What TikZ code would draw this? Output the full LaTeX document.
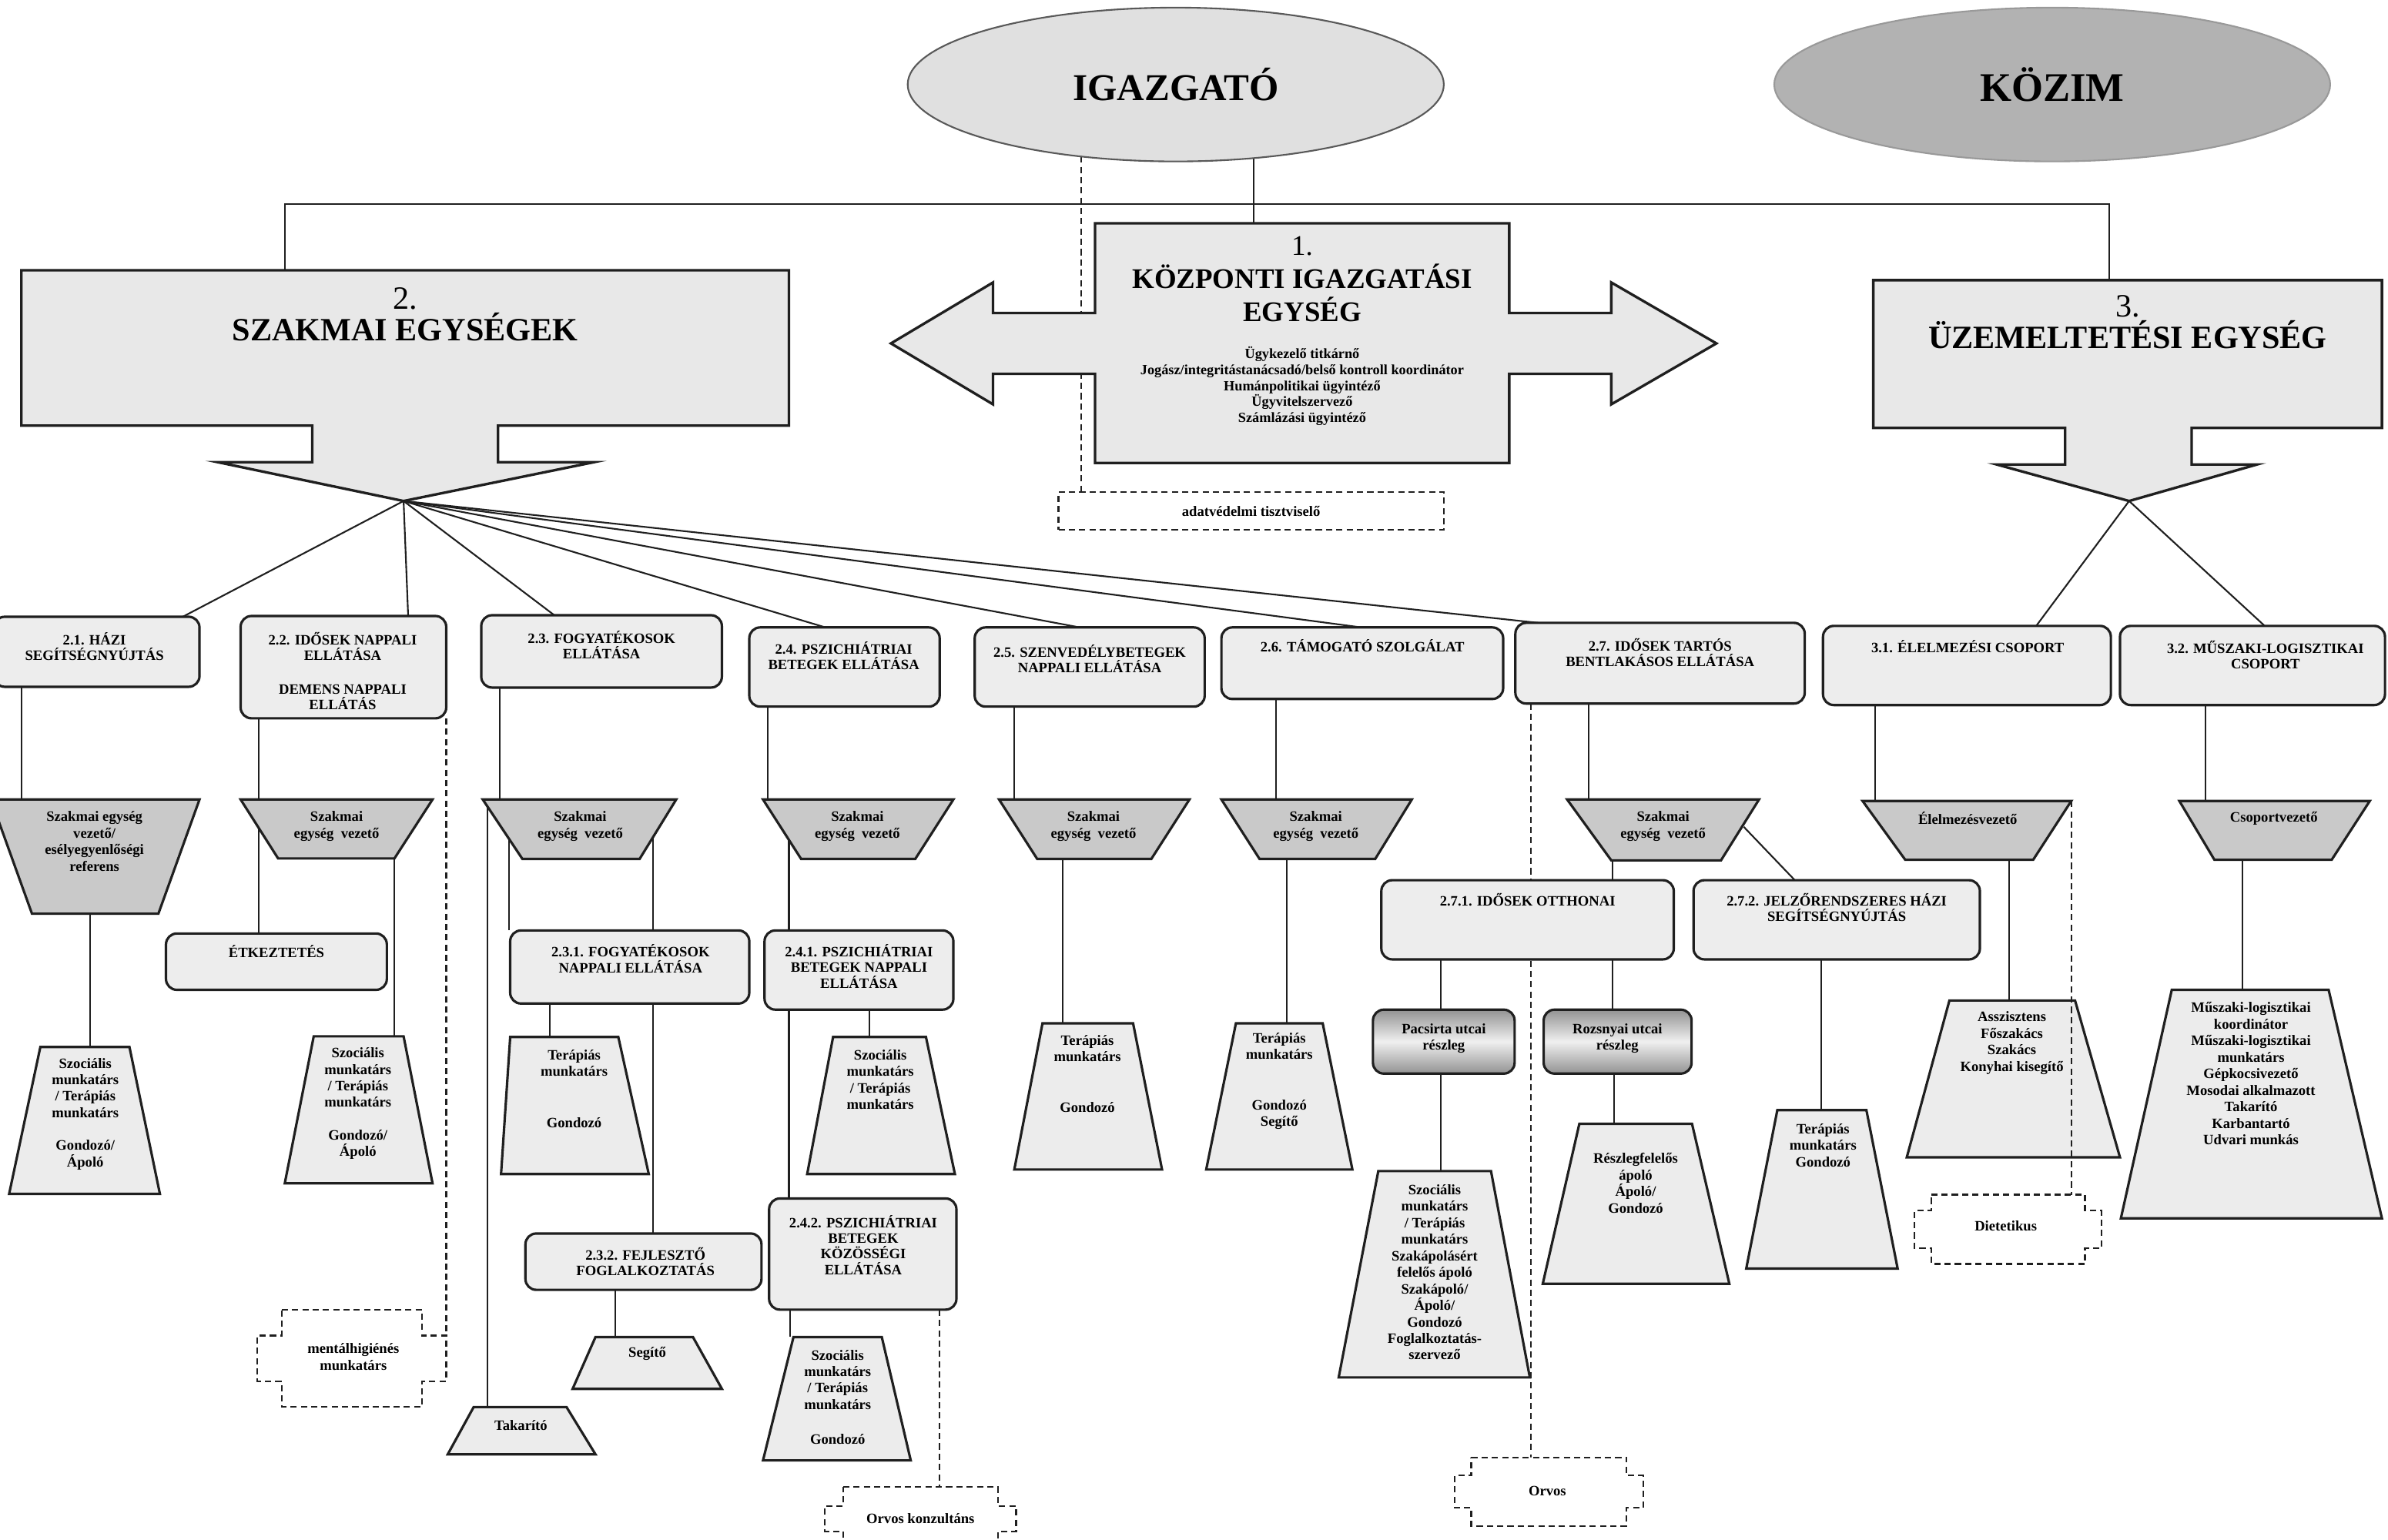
\documentclass[tikz,border=0pt]{standalone}
\usepackage{fontspec}
\setmainfont{Liberation Serif}
\usetikzlibrary{shapes.geometric,fit}
\pgfdeclarelayer{bg}
\pgfsetlayers{bg,main}
\definecolor{cBox}{gray}{0.93}
\definecolor{cVez}{gray}{0.79}
\definecolor{cLow}{gray}{0.925}
\definecolor{cBig}{gray}{0.91}
\definecolor{cIg}{gray}{0.88}
\definecolor{cKoz}{gray}{0.70}
\definecolor{cLine}{gray}{0.12}
\newcommand\pxu{0.5627pt}
\newcommand\trapz[8]{%
  \path[#2] (#5,#3) -- (#6,#3) -- (#8,#4) -- (#7,#4) -- cycle;
  \node[hid, fit={(#5,#3) (#6,#3) (#7,#4) (#8,#4)}] (#1) {};}
\newcommand\rbx[6]{\node[rbox, fit={(#2,#3) (#4,#5)}, #6] (#1) {};}
\newcommand\notchbox[7]{%
  \draw[dsh, fill=white] ({#2+#6},#3) -- ({#4-#6},#3) -- ({#4-#6},{#3+#7}) -- (#4,{#3+#7}) -- (#4,{#5-#7}) -- ({#4-#6},{#5-#7}) -- ({#4-#6},#5) -- ({#2+#6},#5) -- ({#2+#6},{#5-#7}) -- (#2,{#5-#7}) -- (#2,{#3+#7}) -- ({#2+#6},{#3+#7}) -- cycle;
  \node[hid, fit={(#2,#3) (#4,#5)}] (#1) {};}
\begin{document}
\begin{tikzpicture}[x=0.019777cm, y=-0.019777cm,
  hid/.style={inner sep=0pt, outer sep=0pt},
  conn/.style={draw=cLine, line width=0.6pt},
  dsh/.style={draw=cLine, line width=0.6pt, dash pattern=on 2.3pt off 1.5pt},
  rbox/.style={draw=cLine, line width=0.9pt, fill=cBox, rounded corners=4pt, inner sep=0pt, outer sep=0pt},
  vez/.style={draw=cLine, line width=0.9pt, fill=cVez},
  low/.style={draw=cLine, line width=0.9pt, fill=cLow},
  big/.style={draw=cLine, line width=0.95pt, fill=cBig},
  t/.style={font=\bfseries\fontsize{5.3}{6.1}\selectfont, align=center, inner sep=0pt},
  tt/.style={font=\bfseries\fontsize{5.3}{5.8}\selectfont, align=center, inner sep=0pt},
  ts/.style={font=\bfseries\fontsize{5.2}{5.9}\selectfont, align=center, inner sep=0pt},
  shd/.style={top color=gray!85, bottom color=gray!85, middle color=gray!12}]
\useasboundingbox (0,0) rectangle (1568,1011.2);

% ---- top ellipses
\node[ellipse, draw=black!65, line width=0.6pt, fill=cIg, minimum width=352*\pxu, minimum height=101*\pxu, inner sep=0pt, font=\bfseries\fontsize{14}{16}\selectfont] (igaz) at (772,55.5) {IGAZGATÓ};
\node[ellipse, draw=black!40, line width=0.6pt, fill=cKoz, minimum width=365*\pxu, minimum height=101*\pxu, inner sep=0pt, font=\bfseries\fontsize{15}{17}\selectfont] (kozim) at (1347.5,55.5) {KÖZIM};

% ---- central double arrow
\path[big] (719,146.6) -- (991,146.6) -- (991,205.5) -- (1058,205.5) -- (1058,185.5) -- (1127,225.5) -- (1058,265.5) -- (1058,245.5) -- (991,245.5) -- (991,304) -- (719,304) -- (719,245.5) -- (652,245.5) -- (652,265.5) -- (585,225.5) -- (652,185.5) -- (652,205.5) -- (719,205.5) -- cycle;
\node[hid, fit={(719,146.6) (991,304)}] (kozp) {};
\node[font=\bfseries\fontsize{10.5}{12.1}\selectfont, align=center, inner sep=0pt] (kozpt) at (855,183.3) {{\mdseries 1.}\\KÖZPONTI IGAZGATÁSI\\EGYSÉG};
\node[ts] (kozps) at (855,253.6) {Ügykezelő titkárnő\\Jogász/integritástanácsadó/belső kontroll koordinátor\\Humánpolitikai ügyintéző\\Ügyvitelszervező\\Számlázási ügyintéző};

\node[dsh, fit={(695,323) (948,348)}, inner sep=0pt] (adat) {};
\node[t] (adatt) at (821.5,335.5) {adatvédelmi tisztviselő};

% ---- SZAKMAI
\path[big] (14,177.5) -- (518,177.5) -- (518,279.5) -- (327,279.5) -- (327,303.5) -- (390,303.5) -- (265,329) -- (143,303.5) -- (205,303.5) -- (205,279.5) -- (14,279.5) -- cycle;
\node[hid, fit={(14,177.5) (518,279.5)}] (szak) {};
\coordinate (sztip) at (265,329);
\node[font=\bfseries\fontsize{12}{11.6}\selectfont, align=center, inner sep=0pt] (szakt) at (266,206.4) {{\mdseries 2.}\\SZAKMAI EGYSÉGEK};

% ---- ÜZEMELTETÉSI
\path[big] (1230,184) -- (1564,184) -- (1564,281) -- (1439,281) -- (1439,305) -- (1482,305) -- (1398,329) -- (1311,305) -- (1356,305) -- (1356,281) -- (1230,281) -- cycle;
\node[hid, fit={(1230,184) (1564,281)}] (uzem) {};
\coordinate (uztip) at (1398,329);
\node[font=\bfseries\fontsize{12}{11.6}\selectfont, align=center, inner sep=0pt] (uzemt) at (1397,211.4) {{\mdseries 3.}\\ÜZEMELTETÉSI EGYSÉG};

\coordinate (hl) at (0,134);
\coordinate (v27r) at (1145,543);

% ---- rounded boxes
\rbx{b21}{-4}{405}{131}{451}{}
\rbx{b22}{158}{404.5}{293}{471.7}{}
\rbx{b23}{316}{404}{474}{451.5}{}
\rbx{b24}{492}{412}{617}{464}{}
\rbx{b25}{640}{412}{791}{464}{}
\rbx{b26}{802}{412}{987}{459}{}
\rbx{b27}{995}{409}{1185}{462}{}
\rbx{b31}{1197}{411}{1386}{463}{}
\rbx{b32}{1392}{411}{1566}{463}{}
\rbx{etk}{109}{613}{254}{650}{}
\rbx{b231}{335}{611}{492}{659}{}
\rbx{b232}{345}{810}{500}{847}{}
\rbx{b241}{502}{611}{626}{663}{}
\rbx{b242}{505}{787}{628}{860}{}
\rbx{b271}{907}{578}{1099}{630}{}
\rbx{b272}{1112}{578}{1300}{630}{}
\rbx{pac}{901.5}{663}{994.5}{705}{shd}
\rbx{roz}{1013.6}{663}{1110.7}{705}{shd}

% ---- leader trapezoids
\trapz{v21}{vez}{525}{600}{-6}{131}{21}{104}
\trapz{v22}{vez}{525}{563.7}{158}{284}{182.6}{259}
\trapz{v23}{vez}{525}{564}{317}{444}{343}{420}
\trapz{v24}{vez}{525}{564}{501}{626}{526}{601}
\trapz{v25}{vez}{525}{564}{656}{781}{681}{756}
\trapz{v26}{vez}{525}{564}{802}{927}{827}{903}
\trapz{v27}{vez}{525}{565}{1029}{1155}{1058}{1130}
\trapz{elv}{vez}{526}{564.6}{1223}{1360}{1251}{1335}
\trapz{csv}{vez}{526}{564.6}{1431}{1556}{1454}{1531}

% ---- staff trapezoids
\trapz{l21}{low}{687.5}{784}{26.5}{85}{6}{105}
\trapz{l22}{low}{680.5}{777}{206}{265}{187}{284}
\trapz{l231}{low}{681}{771}{335}{406}{329}{426}
\trapz{l241}{low}{681}{771}{547}{608}{530}{627}
\trapz{l242}{low}{878}{959}{521}{579}{501}{598}
\trapz{tak}{low}{924}{955}{311}{372}{294}{391}
\trapz{seg}{low}{878}{912}{391}{455}{376}{474}
\trapz{l25}{low}{672}{768}{684.5}{744}{666}{763}
\trapz{l26}{low}{672}{768}{811.5}{868.5}{792}{888}
\trapz{lpac}{low}{769}{904.5}{905}{979}{879}{1004.5}
\trapz{lroz}{low}{738}{843}{1037}{1111}{1013}{1135.5}
\trapz{l272}{low}{729}{833}{1167}{1225.5}{1146.6}{1246}
\trapz{l31}{low}{657}{760}{1280}{1362.5}{1252}{1392}
\trapz{l32}{low}{650}{800}{1426}{1529}{1392.6}{1564}

% ---- dashed notched boxes
\notchbox{ment}{169}{860}{293}{924}{16}{17}
\notchbox{ork}{541.6}{976.5}{667.2}{1018}{12}{12.5}
\notchbox{orv}{955}{957}{1079}{1002}{11}{12}
\notchbox{diet}{1257}{784.5}{1380}{830}{11}{10.5}

% ---- texts
\node[tt] (b21t) at (62,424.5) {2.1. HÁZI\\SEGÍTSÉGNYÚJTÁS};
\node[tt] (b22t) at (225,440.7) {2.2. IDŐSEK NAPPALI\\ELLÁTÁSA\\[6.6pt]DEMENS NAPPALI\\ELLÁTÁS};
\node[tt] (b23t) at (395,423.5) {2.3. FOGYATÉKOSOK\\ELLÁTÁSA};
\node[tt] (b24t) at (554,430.5) {2.4. PSZICHIÁTRIAI\\BETEGEK ELLÁTÁSA};
\node[tt] (b25t) at (715.5,432.5) {2.5. SZENVEDÉLYBETEGEK\\NAPPALI ELLÁTÁSA};
\node[tt] (b26t) at (894.6,424) {2.6. TÁMOGATÓ SZOLGÁLAT};
\node[tt] (b27t) at (1090,428.5) {2.7. IDŐSEK TARTÓS\\BENTLAKÁSOS ELLÁTÁSA};
\node[tt] (b31t) at (1292,424.6) {3.1. ÉLELMEZÉSI CSOPORT};
\node[tt] (b32t) at (1487.5,430) {3.2. MŰSZAKI-LOGISZTIKAI\\CSOPORT};
\node[tt] (etkt) at (181.5,625) {ÉTKEZTETÉS};
\node[tt] (b231t) at (414,629.5) {2.3.1. FOGYATÉKOSOK\\NAPPALI ELLÁTÁSA};
\node[tt] (b232t) at (423.8,828.5) {2.3.2. FEJLESZTŐ\\FOGLALKOZTATÁS};
\node[tt] (b241t) at (564,634.5) {2.4.1. PSZICHIÁTRIAI\\BETEGEK NAPPALI\\ELLÁTÁSA};
\node[tt] (b242t) at (566.8,817.5) {2.4.2. PSZICHIÁTRIAI\\BETEGEK\\KÖZÖSSÉGI\\ELLÁTÁSA};
\node[tt] (b271t) at (1003,591) {2.7.1. IDŐSEK OTTHONAI};
\node[tt] (b272t) at (1206,596) {2.7.2. JELZŐRENDSZERES HÁZI\\SEGÍTSÉGNYÚJTÁS};
\node[t] (pact) at (948,682) {Pacsirta utcai\\részleg};
\node[t] (rozt) at (1062,682) {Rozsnyai utcai\\részleg};

\node[t] (v21t) at (62,552.5) {Szakmai egység\\vezető/\\esélyegyenlőségi\\referens};
\foreach \nm/\xx in {v22t/221, v23t/381, v24t/563, v25t/718, v26t/864, v27t/1092}
  \node[t] (\nm) at (\xx,542.5) {Szakmai\\egység~ vezető};
\node[t] (elvt) at (1292,537.5) {Élelmezésvezető};
\node[t] (csvt) at (1493,537.5) {Csoportvezető};

\node[t] (l21t) at (56,731.5) {Szociális\\munkatárs\\/ Terápiás\\munkatárs\\[6pt]Gondozó/\\Ápoló};
\node[t] (l22t) at (235,724.7) {Szociális\\munkatárs\\/ Terápiás\\munkatárs\\[6pt]Gondozó/\\Ápoló};
\node[t] (l231t) at (377,715) {Terápiás\\munkatárs\\[13pt]Gondozó};
\node[t] (l241t) at (578,709) {Szociális\\munkatárs\\/ Terápiás\\munkatárs};
\node[t] (l242t) at (550,917.5) {Szociális\\munkatárs\\/ Terápiás\\munkatárs\\[6.8pt]Gondozó};
\node[t] (takt) at (342,936) {Takarító};
\node[t] (segt) at (425,889) {Segítő};
\node[t] (l25t) at (714,705) {Terápiás\\munkatárs\\[12.5pt]Gondozó};
\node[t] (l26t) at (840,710) {Terápiás\\munkatárs\\[12.5pt]Gondozó\\Segítő};
\node[t] (lpact) at (942,835.5) {Szociális\\munkatárs\\/ Terápiás\\munkatárs\\Szakápolásért\\felelős ápoló\\Szakápoló/\\Ápoló/\\Gondozó\\Foglalkoztatás-\\szervező};
\node[t] (lrozt) at (1074,777) {Részlegfelelős\\ápoló\\Ápoló/\\Gondozó};
\node[t] (l272t) at (1197,752) {Terápiás\\munkatárs\\Gondozó};
\node[t] (l31t) at (1321,685) {Asszisztens\\Főszakács\\Szakács\\Konyhai kisegítő};
\node[t] (l32t) at (1478,705) {Műszaki-logisztikai\\koordinátor\\Műszaki-logisztikai\\munkatárs\\Gépkocsivezető\\Mosodai alkalmazott\\Takarító\\Karbantartó\\Udvari munkás};
\node[t] (mentt) at (232,891) {mentálhigiénés\\munkatárs};
\node[t] (orkt) at (604.4,997.3) {Orvos konzultáns};
\node[t] (orvt) at (1016,979) {Orvos};
\node[t] (dietT) at (1317,805) {Dietetikus};

% ---- dashed connector drawn over its trapezoid
\draw[dsh] (elv.north east) -- (diet.north -| 1360,0);

% ---- connectors behind the shapes
\begin{pgfonlayer}{bg}
\fill[white] (0,0) rectangle (1568,1011.2);
\draw[conn] (igaz.center -| 823,0) -- (kozp.north -| 823,0);
\draw[dsh] (igaz.center -| 710,0) -- (adat.north -| 710,0);
\draw[conn] (szak.north -| 187,0) |- (hl -| 1385,0) -- (uzem.north -| 1385,0);
\foreach \nm/\xx in {b21/120, b22/268, b23/364, b24/542, b25/709, b26/894, b27/1010}
  \draw[conn] (sztip) -- (\nm.north -| \xx,0);
\draw[conn] (uztip) -- (b31.north -| 1337,0);
\draw[conn] (uztip) -- (b32.north -| 1487,0);
% 2.1
\draw[conn] (b21.south -| 14,0) -- (v21.north -| 14,0);
\draw[conn] (v21.south -| 59,0) -- (l21.north -| 59,0);
% 2.2
\draw[conn] (b22.south -| 170,0) -- (etk.north -| 170,0);
\draw[conn] (v22.south -| 259,0) -- (l22.north -| 259,0);
\draw[dsh] (b22.south east) -- (ment.east |- 0,877);
% 2.3
\draw[conn] (b23.south -| 328,0) -- (v23.north -| 328,0);
\draw[conn] (v23.north -| 320,0) -- (tak.north -| 320,0);
\draw[conn] (v23.north -| 334,0) -- (b231.north -| 334,0);
\draw[conn] (v23.north -| 429,0) -- (b232.north -| 429,0);
\draw[conn] (b231.south -| 361,0) -- (l231.north -| 361,0);
\draw[conn] (b232.south -| 404,0) -- (seg.north -| 404,0);
% 2.4
\draw[conn] (b24.south -| 504,0) -- (v24.north -| 504,0);
\draw[conn] (v24.north -| 518,0) -- (b242.north -| 518,0);
\draw[conn] (b241.south -| 571,0) -- (l241.north -| 571,0);
\draw[conn] (b242.south -| 519,0) -- (l242.north -| 519,0);
\draw[dsh] (b242.south -| 617,0) -- (ork.north -| 617,0);
% 2.5, 2.6
\draw[conn] (b25.south -| 666,0) -- (v25.north -| 666,0);
\draw[conn] (v25.south -| 698,0) -- (l25.north -| 698,0);
\draw[conn] (b26.south -| 838,0) -- (v26.north -| 838,0);
\draw[conn] (v26.south -| 845,0) -- (l26.north -| 845,0);
% 2.7
\draw[conn] (b27.south -| 1043,0) -- (v27.north -| 1043,0);
\draw[conn] (v27.south -| 1059,0) -- (b271.north -| 1059,0);
\draw[conn] (v27r) -- (b272.north -| 1178.5,0);
\draw[dsh] (b27.south -| 1005,0) -- (orv.north -| 1005,0);
\draw[conn] (b271.south -| 946,0) -- (pac.north -| 946,0);
\draw[conn] (b271.south -| 1059,0) -- (roz.north -| 1059,0);
\draw[conn] (pac.south -| 946,0) -- (lpac.north -| 946,0);
\draw[conn] (roz.south -| 1060,0) -- (lroz.north -| 1060,0);
\draw[conn] (b272.south -| 1196,0) -- (l272.north -| 1196,0);
% 3.x
\draw[conn] (b31.south -| 1231,0) -- (elv.north -| 1231,0);
\draw[conn] (elv.south -| 1319,0) -- (l31.north -| 1319,0);
\draw[conn] (b32.south -| 1448,0) -- (csv.north -| 1448,0);
\draw[conn] (csv.south -| 1472.6,0) -- (l32.north -| 1472.6,0);
\end{pgfonlayer}
\end{tikzpicture}
\end{document}
